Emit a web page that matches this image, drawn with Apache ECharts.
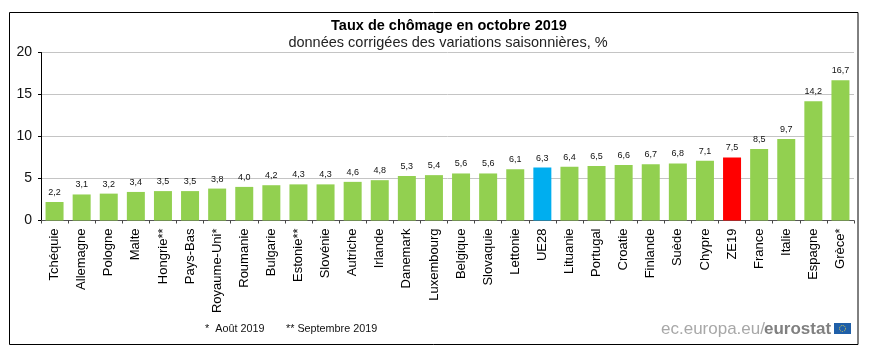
<!DOCTYPE html>
<html><head><meta charset="utf-8">
<style>html,body{margin:0;padding:0;background:#fff}#c{width:875px;height:359px}</style>
<script src="https://cdn.jsdelivr.net/npm/echarts@6/dist/echarts.min.js"></script>
</head><body><div id="c"></div>
<script>
const categories = ["Tchéquie","Allemagne","Pologne","Malte","Hongrie**","Pays-Bas","Royaume-Uni*","Roumanie","Bulgarie","Estonie**","Slovénie","Autriche","Irlande","Danemark","Luxembourg","Belgique","Slovaquie","Lettonie","UE28","Lituanie","Portugal","Croatie","Finlande","Suède","Chypre","ZE19","France","Italie","Espagne","Grèce*"];
const values = [2.2,3.1,3.2,3.4,3.5,3.5,3.8,4.0,4.2,4.3,4.3,4.6,4.8,5.3,5.4,5.6,5.6,6.1,6.3,6.4,6.5,6.6,6.7,6.8,7.1,7.5,8.5,9.7,14.2,16.7];
const highlights = {"UE28":"#00AEEF","ZE19":"#FF0000"};
const barColor = "#92D050";
const yTicks = {min:0,max:20,interval:5};
const FONT = '"Liberation Sans", Arial, sans-serif';
const chart = echarts.init(document.getElementById('c'),null,{renderer:'canvas'});
chart.setOption({
  animation:false,
  backgroundColor:'#fff',
  title:[
    {text:'Taux de chômage en octobre 2019',left:444,top:13.5,textAlign:'center',textStyle:{fontFamily:FONT,fontSize:14.5,fontWeight:'bold',color:'#000'}},
    {text:'données corrigées des variations saisonnières, %',left:443,top:30.5,textAlign:'center',textStyle:{fontFamily:FONT,fontSize:14.5,fontWeight:'normal',color:'#222'}}
  ],
  grid:{left:41,right:21,top:52.5,height:168,containLabel:false},
  xAxis:{type:'category',data:categories,
    axisLine:{show:true,onZero:false,lineStyle:{color:'#555',width:1}},
    axisTick:{show:true,alignWithLabel:false,length:3,lineStyle:{color:'#444'}},
    axisLabel:{interval:0,rotate:90,margin:8,fontFamily:FONT,fontSize:13,color:'#000',align:'right',verticalAlign:'middle'},
    splitLine:{show:false}},
  yAxis:{type:'value',min:yTicks.min,max:yTicks.max,interval:yTicks.interval,
    axisLine:{show:true,lineStyle:{color:'#000',width:1}},
    axisTick:{show:true,length:3,lineStyle:{color:'#000'}},
    axisLabel:{margin:9,fontFamily:FONT,fontSize:14,color:'#111'},
    splitLine:{show:true,lineStyle:{color:'#c4c4c4',width:1}}},
  series:[{type:'bar',barWidth:18,
    data:categories.map((c,i)=>({value:values[i],itemStyle:{color:highlights[c]||barColor}})),
    label:{show:true,position:'top',distance:5,fontFamily:FONT,fontSize:9,color:'#111',
      formatter:p=>p.value.toFixed(1).replace('.',',')}}],
  graphic:[
    {type:'rect',silent:true,z:-1,shape:{x:9.5,y:12.5,width:848.5,height:332},style:{fill:'none',stroke:'#000',lineWidth:1}},
    {type:'text',left:205,top:324,style:{text:'*  Août 2019',font:'10.8px '+FONT,fill:'#111'}},
    {type:'text',left:286,top:324,style:{text:'** Septembre 2019',font:'10.8px '+FONT,fill:'#111'}},
    {type:'text',left:661,top:321,style:{text:'ec.europa.eu/',font:'17px '+FONT,fill:'#a8a8a8'}},
    {type:'text',left:764,top:321,style:{text:'eurostat',font:'bold 17px '+FONT,fill:'#808080'}},
    {type:'rect',silent:true,shape:{x:834,y:323,width:17,height:11},style:{fill:'#1f5fa8'}},
    {type:'circle',silent:true,shape:{cx:842.5,cy:328.5,r:3},style:{fill:'none',stroke:'#e8d44a',lineWidth:1,lineDash:[1,1]}}
  ]
});
</script></body></html>
